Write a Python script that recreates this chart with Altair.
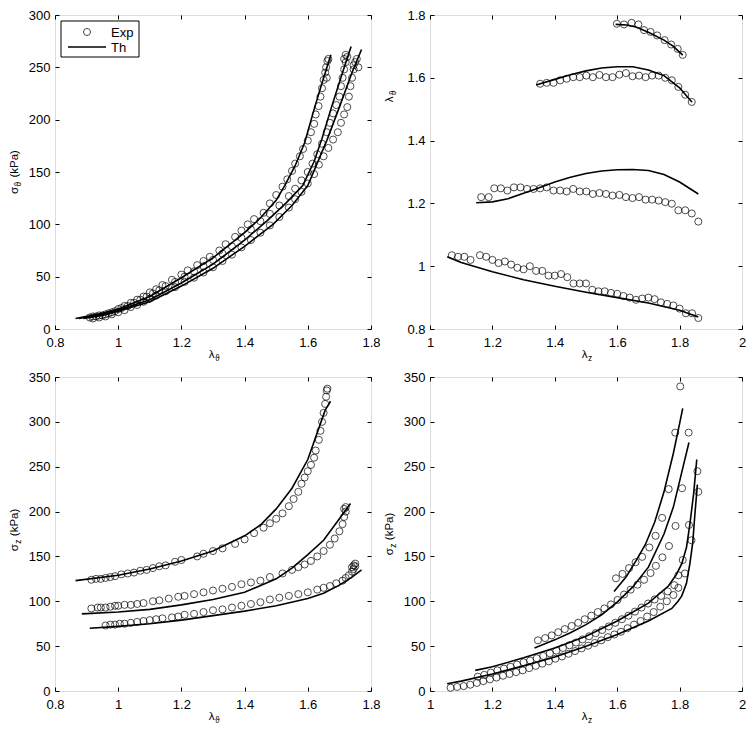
import altair as alt
import pandas as pd

FONT = "Liberation Sans"
W_LEFT, W_RIGHT, H = 316, 312, 314
LABEL_FS = 13
MAIN_FS = 11.5
SUB_FS = 8.5

# ---------------- Panel 1: sigma_theta vs lambda_theta ----------------
P1_EXP_A_X = [0.92,0.94,0.96,0.98,1.00,1.02,1.04,1.06,1.08,1.10,1.12,1.14,1.17,1.20,1.22,1.25,1.27,1.29,1.32,1.34,1.37,1.39,1.41,1.43,1.46,1.48,1.50,1.52,1.535,1.55,1.56,1.575,1.585,1.60,1.61,1.62,1.625,1.634,1.64,1.645,1.65,1.655,1.658,1.662,1.66,1.665]
P1_EXP_A_Y = [12,13,14,16,19,22,25,28,31,35,38,42,47,52,56,61,65,69,75,81,88,94,100,105,111,120,128,136,143,151,158,165,172,180,188,196,205,213,222,230,238,245,250,256,240,258]
P1_EXP_B_X = [0.91,0.93,0.95,0.97,0.99,1.01,1.03,1.05,1.07,1.09,1.11,1.13,1.15,1.18,1.21,1.24,1.27,1.30,1.33,1.36,1.39,1.42,1.45,1.48,1.51,1.54,1.56,1.58,1.60,1.615,1.63,1.645,1.66,1.67,1.68,1.69,1.70,1.705,1.71,1.715,1.72,1.72,1.725,1.715]
P1_EXP_B_Y = [11,12,13,15,17,20,22,25,28,31,34,37,41,45,50,55,60,66,72,79,87,95,103,110,118,127,134,142,150,158,167,177,188,197,206,214,222,232,240,248,255,262,260,258]
P1_EXP_C_X = [0.92,0.94,0.96,0.98,1.00,1.02,1.04,1.06,1.08,1.10,1.12,1.15,1.18,1.21,1.24,1.27,1.30,1.33,1.36,1.39,1.42,1.45,1.48,1.51,1.54,1.56,1.58,1.60,1.62,1.635,1.65,1.665,1.68,1.695,1.705,1.715,1.725,1.73,1.735,1.74,1.745,1.75,1.755,1.745,1.76]
P1_EXP_C_Y = [10,11,12,14,16,18,21,23,26,29,32,36,40,45,49,54,59,65,71,78,85,92,99,107,116,124,131,139,148,157,165,173,181,188,197,205,212,222,232,240,248,255,258,252,250]
P1_TH_A_X = [0.865,0.95,1.0,1.1,1.2,1.3,1.4,1.45,1.5,1.527,1.56,1.59,1.622,1.645,1.673]
P1_TH_A_Y = [10,15,19,31,49,68,92,106,123,137,156,178,212,235,262]
P1_TH_B_X = [0.875,0.95,1.0,1.1,1.2,1.3,1.4,1.47,1.53,1.584,1.62,1.645,1.675,1.71,1.737]
P1_TH_B_Y = [10,14,18,28,44,62,85,103,120,137,160,182,212,245,270]
P1_TH_C_X = [0.89,0.95,1.0,1.1,1.2,1.3,1.4,1.49,1.55,1.60,1.66,1.70,1.74,1.77]
P1_TH_C_Y = [10,13,17,26,41,58,79,100,118,137,180,212,245,267]

# ---------------- Panel 2: lambda_theta vs lambda_z ----------------
P2_EXP_1_X = [1.599,1.622,1.646,1.668,1.686,1.707,1.728,1.752,1.773,1.794,1.81]
P2_EXP_1_Y = [1.772,1.770,1.775,1.770,1.752,1.746,1.735,1.72,1.706,1.692,1.673]
P2_TH_1_X = [1.595,1.63,1.66,1.70,1.75,1.78,1.81]
P2_TH_1_Y = [1.77,1.768,1.762,1.745,1.72,1.70,1.672]
P2_EXP_2_X = [1.353,1.374,1.396,1.417,1.438,1.459,1.48,1.501,1.522,1.543,1.564,1.585,1.607,1.628,1.649,1.67,1.691,1.712,1.733,1.754,1.775,1.796,1.818,1.839]
P2_EXP_2_Y = [1.581,1.584,1.584,1.592,1.597,1.602,1.602,1.607,1.602,1.609,1.602,1.602,1.61,1.615,1.605,1.607,1.602,1.607,1.607,1.60,1.592,1.571,1.546,1.523]
P2_TH_2_X = [1.34,1.40,1.45,1.50,1.55,1.60,1.65,1.70,1.75,1.80,1.84]
P2_TH_2_Y = [1.577,1.595,1.610,1.622,1.631,1.635,1.635,1.625,1.607,1.568,1.522]
P2_EXP_3_X = [1.164,1.188,1.206,1.227,1.248,1.269,1.29,1.311,1.332,1.353,1.374,1.396,1.417,1.438,1.459,1.48,1.501,1.522,1.543,1.564,1.585,1.607,1.628,1.649,1.67,1.691,1.712,1.733,1.754,1.775,1.796,1.818,1.839,1.86]
P2_EXP_3_Y = [1.22,1.22,1.248,1.248,1.241,1.251,1.251,1.246,1.246,1.248,1.251,1.241,1.241,1.238,1.246,1.238,1.238,1.23,1.233,1.23,1.225,1.227,1.22,1.217,1.22,1.212,1.212,1.209,1.204,1.199,1.178,1.178,1.168,1.142]
P2_TH_3_X = [1.148,1.20,1.25,1.30,1.35,1.40,1.45,1.50,1.55,1.60,1.65,1.70,1.75,1.80,1.86]
P2_TH_3_Y = [1.202,1.205,1.215,1.232,1.25,1.268,1.283,1.295,1.303,1.307,1.308,1.305,1.292,1.268,1.23]
P2_EXP_4_X = [1.07,1.09,1.11,1.13,1.16,1.18,1.20,1.22,1.24,1.26,1.28,1.30,1.32,1.34,1.36,1.38,1.40,1.42,1.44,1.46,1.48,1.50,1.52,1.54,1.56,1.58,1.60,1.62,1.64,1.66,1.68,1.70,1.72,1.74,1.76,1.78,1.80,1.82,1.84,1.86]
P2_EXP_4_Y = [1.035,1.03,1.03,1.02,1.035,1.03,1.02,1.01,1.015,1.005,0.995,0.99,1.0,0.985,0.985,0.97,0.97,0.975,0.965,0.945,0.945,0.945,0.925,0.92,0.92,0.915,0.912,0.905,0.9,0.893,0.897,0.9,0.895,0.885,0.88,0.875,0.865,0.85,0.85,0.835]
P2_TH_4_X = [1.055,1.1,1.2,1.3,1.4,1.5,1.6,1.7,1.8,1.86]
P2_TH_4_Y = [1.03,1.012,0.982,0.957,0.936,0.917,0.9,0.883,0.86,0.838]

# ---------------- Panel 3: sigma_z vs lambda_theta ----------------
P3_EXP_1_X = [0.915,0.93,0.945,0.96,0.975,0.99,1.01,1.03,1.05,1.07,1.09,1.11,1.13,1.15,1.18,1.20,1.25,1.27,1.30,1.33,1.37,1.40,1.43,1.46,1.48,1.50,1.52,1.54,1.555,1.57,1.58,1.59,1.60,1.61,1.62,1.625,1.635,1.64,1.645,1.65,1.655,1.658,1.66,1.662]
P3_EXP_1_Y = [124,125,125,126,127,128,130,131,132,134,135,137,139,140,144,146,150,153,156,159,164,169,176,182,187,192,198,206,214,222,231,238,245,252,260,268,280,290,300,310,320,328,335,337]
P3_TH_1_X = [0.865,1.0,1.1,1.2,1.3,1.4,1.45,1.5,1.55,1.6,1.63,1.655,1.672]
P3_TH_1_Y = [123,129,136,145,156,173,185,203,226,258,288,313,323]
P3_EXP_2_X = [0.915,0.935,0.945,0.96,0.975,0.99,1.0,1.02,1.04,1.06,1.08,1.11,1.13,1.16,1.19,1.21,1.24,1.27,1.30,1.33,1.36,1.39,1.42,1.45,1.48,1.52,1.55,1.57,1.59,1.61,1.63,1.65,1.67,1.685,1.70,1.71,1.715,1.72,1.72,1.715]
P3_EXP_2_Y = [92,93,93,93,94,95,95,96,96,97,98,100,101,103,105,106,108,110,112,114,116,119,121,123,127,131,135,138,141,145,150,156,163,170,178,186,194,200,205,203]
P3_TH_2_X = [0.885,1.0,1.1,1.2,1.3,1.4,1.5,1.55,1.6,1.65,1.7,1.735]
P3_TH_2_Y = [86,88,91,96,102,110,125,137,152,168,192,209]
P3_EXP_3_X = [0.96,0.975,0.99,1.005,1.02,1.04,1.06,1.08,1.10,1.12,1.14,1.17,1.19,1.21,1.24,1.27,1.30,1.33,1.36,1.39,1.42,1.45,1.48,1.51,1.54,1.57,1.60,1.63,1.65,1.67,1.69,1.71,1.72,1.73,1.74,1.745,1.75,1.75,1.745,1.74]
P3_EXP_3_Y = [73,74,74,75,75,76,77,78,79,80,81,82,83,85,86,88,90,91,93,95,97,99,102,104,106,108,110,113,115,117,120,123,126,129,133,136,139,142,140,138]
P3_TH_3_X = [0.91,1.0,1.1,1.2,1.3,1.4,1.5,1.6,1.65,1.7,1.74,1.77]
P3_TH_3_Y = [70,72,75,79,84,89,95,103,109,118,127,135]

# ---------------- Panel 4: sigma_z vs lambda_z ----------------
P4_EXP_1_X = [1.596,1.617,1.638,1.659,1.68,1.703,1.723,1.744,1.765,1.786,1.802]
P4_EXP_1_Y = [125.6,130.5,137,143.5,149.5,160,173,193,225,288,339.5]
P4_TH_1_X = [1.59,1.63,1.66,1.69,1.72,1.75,1.78,1.80,1.81]
P4_TH_1_Y = [111,128,145,163,188,222,265,298,315]
P4_EXP_2_X = [1.346,1.369,1.39,1.411,1.432,1.454,1.475,1.496,1.517,1.538,1.559,1.58,1.601,1.622,1.643,1.665,1.686,1.707,1.724,1.745,1.766,1.787,1.808,1.829]
P4_EXP_2_Y = [56.5,59,62,65.5,69,72.5,76,80,84,88,92,96.5,101.5,107.5,113,118.5,124,131.5,139.5,149,161.6,184,226,288]
P4_TH_2_X = [1.335,1.40,1.45,1.50,1.55,1.60,1.65,1.70,1.75,1.78,1.807,1.83]
P4_TH_2_Y = [48,57,65,74,85,99,116,138,175,205,244,277]
P4_EXP_3_X = [1.153,1.174,1.195,1.216,1.237,1.258,1.279,1.30,1.321,1.342,1.363,1.384,1.405,1.426,1.447,1.468,1.489,1.51,1.531,1.552,1.573,1.594,1.615,1.636,1.657,1.678,1.699,1.72,1.741,1.762,1.783,1.796,1.81,1.83,1.857]
P4_EXP_3_Y = [16,18,20.5,23,25,27,29.5,32,34,36.5,39,42,45,48,51,54,57.5,61,64.5,68,72,76,80,84,88.5,93,97.5,102,106,111,118,129,146,185,245]
P4_TH_3_X = [1.145,1.2,1.3,1.4,1.5,1.6,1.7,1.764,1.79,1.807,1.822,1.833,1.845,1.855]
P4_TH_3_Y = [23,27,37,48,61,78,98,117,130,142,160,186,220,258]
P4_EXP_4_X = [1.066,1.087,1.108,1.129,1.15,1.171,1.192,1.213,1.234,1.255,1.276,1.297,1.318,1.339,1.36,1.381,1.402,1.423,1.444,1.465,1.486,1.507,1.528,1.549,1.57,1.591,1.612,1.633,1.654,1.675,1.696,1.717,1.738,1.759,1.78,1.796,1.817,1.838,1.86]
P4_EXP_4_Y = [3.6,4.5,5.5,7,9,11,13,15,17,19,21,23,25.5,28,30.5,33,36,38.5,41.5,44.5,47.5,50.5,53.5,56.5,60,63,66,70,74,78,83,88,94,100,107,115,131,168,222]
P4_TH_4_X = [1.055,1.1,1.2,1.3,1.4,1.5,1.6,1.7,1.775,1.795,1.807,1.822,1.833,1.842,1.849,1.857]
P4_TH_4_Y = [8,11,19,28,38,50,63,78,92,100,106,120,142,165,197,230]

# tick values
TICKS_LT = [0.8, 1.0, 1.2, 1.4, 1.6, 1.8]
TICKS_LZ = [1.0, 1.2, 1.4, 1.6, 1.8, 2.0]
TICKS_S300 = [0, 50, 100, 150, 200, 250, 300]
TICKS_S350 = [0, 50, 100, 150, 200, 250, 300, 350]

# legend entries
LEGEND_LABELS = ["Exp", "Th"]

# approximate glyph widths (em) used to lay out axis titles with subscripts
W_EM = {"σ": 0.60, "λ": 0.56, "ϑ": 0.63, "z": 0.50, "(kPa)": 2.39}


def make_df(series, kind):
    rows = []
    for name, xs, ys in series:
        assert len(xs) == len(ys), name
        for i, (x, y) in enumerate(zip(xs, ys)):
            rows.append({"s": name, "i": i, "x": x, "y": y, "k": kind})
    return pd.DataFrame(rows)


def axis(orient, values, labels=True):
    kw = dict(orient=orient, values=values, title=None, domain=False, grid=False,
              offset=-4, tickSize=4, tickColor="black", tickWidth=1,
              labels=labels)
    if labels:
        kw.update(format="~r", labelPadding=7 if orient == "bottom" else 5,
                  labelFlush=False, labelOverlap=False,
                  labelFont=FONT, labelFontSize=LABEL_FS, labelColor="black")
    return alt.Axis(**kw)


ONE = pd.DataFrame({"d": [0]})


def text_piece(txt, fs, x, y, angle=0, align="left", baseline="alphabetic"):
    props = dict(text=txt, align=align, baseline=baseline, font=FONT,
                 fontSize=fs, color="black")
    if angle:
        props["angle"] = angle
    return alt.Chart(ONE).mark_text(**props).encode(x=alt.value(x), y=alt.value(y))


def y_title(pieces, center_y, x_base=-37):
    # pieces: list of (text, is_subscript, gap_before_em)
    lengths = []
    for t, sub, gap in pieces:
        fs = SUB_FS if sub else MAIN_FS
        lengths.append((gap * MAIN_FS, W_EM[t] * fs))
    total = sum(g + l for g, l in lengths)
    y = center_y + total / 2
    layers = []
    for (t, sub, gap), (g, l) in zip(pieces, lengths):
        y -= g
        fs = SUB_FS if sub else MAIN_FS
        layers.append(text_piece(t, fs, x_base + (3 if sub else 0), y, angle=270))
        y -= l
    return layers


def x_title(main, sub, width):
    cx = width / 2
    return [text_piece(main, MAIN_FS, cx + 1.5, H + 29, align="right"),
            text_piece(sub, SUB_FS, cx + 2, H + 32)]


def legend_layers():
    box = alt.Chart(ONE).mark_rect(fill="white", stroke="black", strokeWidth=1).encode(
        x=alt.value(6), x2=alt.value(84), y=alt.value(6), y2=alt.value(42))
    sym = alt.Chart(ONE).mark_point(shape="circle", size=50, filled=False, color="black",
                                    strokeWidth=1).encode(x=alt.value(32), y=alt.value(17))
    seg = alt.Chart(ONE).mark_rule(color="black", strokeWidth=1.6).encode(
        x=alt.value(13), x2=alt.value(51), y=alt.value(32))
    t1 = text_piece(LEGEND_LABELS[0], LABEL_FS, 56, 17.5, baseline="middle")
    t2 = text_piece(LEGEND_LABELS[1], LABEL_FS, 56, 32.5, baseline="middle")
    return [box, sym, seg, t1, t2]


def panel(exp_series, th_series, xdom, ydom, xticks, yticks, ytitle, xsym, width, legend=False):
    th_df = make_df(th_series, "Th")
    ex_df = make_df(exp_series, "Exp")
    xs = alt.Scale(domain=xdom, nice=False, zero=False)
    ys = alt.Scale(domain=ydom, nice=False, zero=False)
    lines = alt.Chart(th_df).mark_line(color="black", strokeWidth=1.6).encode(
        x=alt.X("x:Q", scale=xs, axis=axis("bottom", xticks)),
        y=alt.Y("y:Q", scale=ys, axis=axis("left", yticks)),
        detail="s:N",
        order="i:Q",
    )
    pts = alt.Chart(ex_df).mark_point(shape="circle", size=50, filled=False,
                                      color="black", strokeWidth=1).encode(
        x=alt.X("x:Q", scale=xs, axis=axis("top", xticks, labels=False)),
        y=alt.Y("y:Q", scale=ys, axis=axis("right", yticks, labels=False)),
    )
    layers = [lines, pts] + ytitle + x_title(xsym[0], xsym[1], width)
    if legend:
        layers += legend_layers()
    return alt.layer(*layers).properties(width=width, height=H)


p1 = panel(
    [("A", P1_EXP_A_X, P1_EXP_A_Y), ("B", P1_EXP_B_X, P1_EXP_B_Y), ("C", P1_EXP_C_X, P1_EXP_C_Y)],
    [("A", P1_TH_A_X, P1_TH_A_Y), ("B", P1_TH_B_X, P1_TH_B_Y), ("C", P1_TH_C_X, P1_TH_C_Y)],
    [0.8, 1.8], [0, 300], TICKS_LT, TICKS_S300,
    y_title([("σ", False, 0), ("ϑ", True, 0.05), ("(kPa)", False, 0.3)], H / 2),
    ("λ", "ϑ"), W_LEFT, legend=True)

p2 = panel(
    [("1", P2_EXP_1_X, P2_EXP_1_Y), ("2", P2_EXP_2_X, P2_EXP_2_Y), ("3", P2_EXP_3_X, P2_EXP_3_Y), ("4", P2_EXP_4_X, P2_EXP_4_Y)],
    [("1", P2_TH_1_X, P2_TH_1_Y), ("2", P2_TH_2_X, P2_TH_2_Y), ("3", P2_TH_3_X, P2_TH_3_Y), ("4", P2_TH_4_X, P2_TH_4_Y)],
    [1.0, 2.0], [0.8, 1.8], TICKS_LZ, TICKS_LT,
    y_title([("λ", False, 0), ("ϑ", True, 0.05)], H * 0.258),
    ("λ", "z"), W_RIGHT)

p3 = panel(
    [("1", P3_EXP_1_X, P3_EXP_1_Y), ("2", P3_EXP_2_X, P3_EXP_2_Y), ("3", P3_EXP_3_X, P3_EXP_3_Y)],
    [("1", P3_TH_1_X, P3_TH_1_Y), ("2", P3_TH_2_X, P3_TH_2_Y), ("3", P3_TH_3_X, P3_TH_3_Y)],
    [0.8, 1.8], [0, 350], TICKS_LT, TICKS_S350,
    y_title([("σ", False, 0), ("z", True, 0.05), ("(kPa)", False, 0.3)], H / 2 - 4),
    ("λ", "ϑ"), W_LEFT)

p4 = panel(
    [("1", P4_EXP_1_X, P4_EXP_1_Y), ("2", P4_EXP_2_X, P4_EXP_2_Y), ("3", P4_EXP_3_X, P4_EXP_3_Y), ("4", P4_EXP_4_X, P4_EXP_4_Y)],
    [("1", P4_TH_1_X, P4_TH_1_Y), ("2", P4_TH_2_X, P4_TH_2_Y), ("3", P4_TH_3_X, P4_TH_3_Y), ("4", P4_TH_4_X, P4_TH_4_Y)],
    [1.0, 2.0], [0, 350], TICKS_LZ, TICKS_S350,
    y_title([("σ", False, 0), ("z", True, 0.05), ("(kPa)", False, 0.3)], H / 2),
    ("λ", "z"), W_RIGHT)

chart = alt.concat(p1, p2, p3, p4, columns=2, spacing={"row": 7, "column": 2}, align="each").properties(
    padding={"left": 0, "top": 0, "right": 0, "bottom": 0}
).configure_view(stroke="black", strokeWidth=1).configure(background="white")

chart.save("out.html", embed_options={"renderer": "svg", "actions": False})
